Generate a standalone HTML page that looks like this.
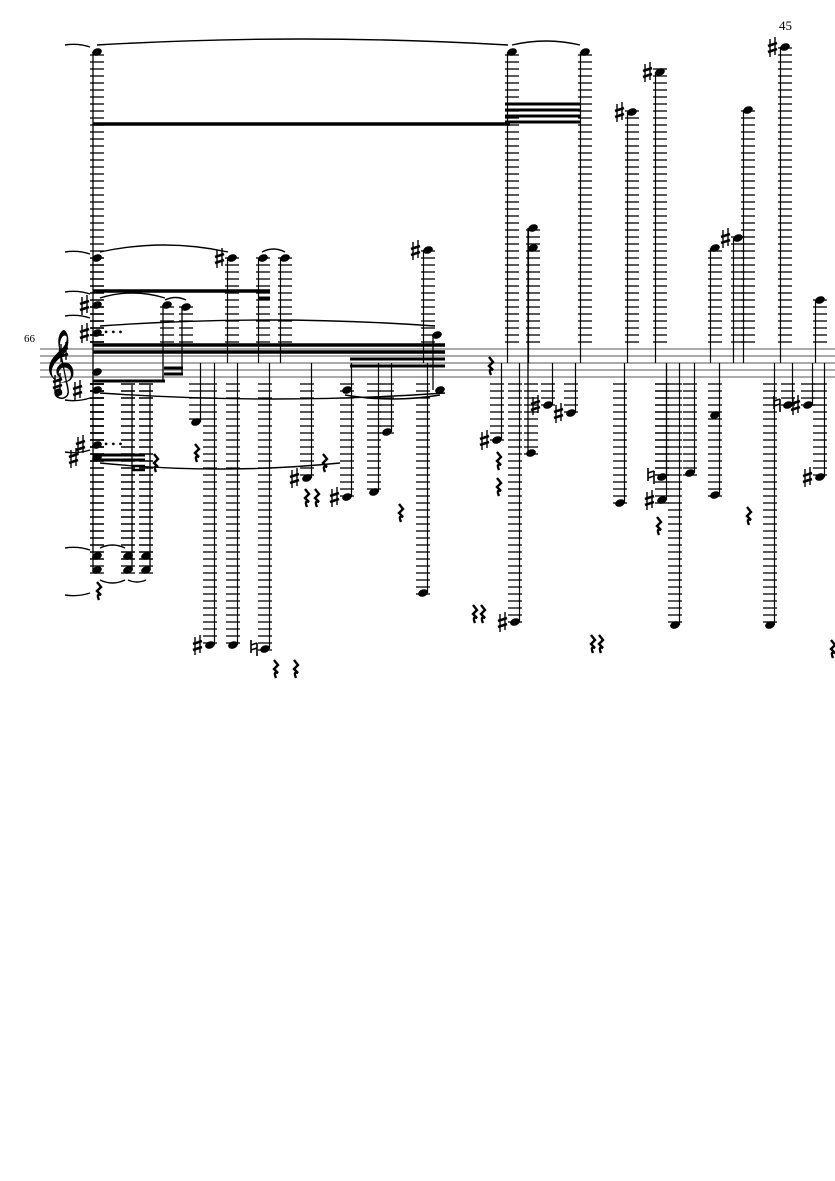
<!DOCTYPE html>
<html><head><meta charset="utf-8"><style>
html,body{margin:0;padding:0;background:#fff;width:835px;height:1181px;overflow:hidden}
svg{display:block}
</style></head><body>
<svg id="s" width="835" height="1181" xmlns="http://www.w3.org/2000/svg" font-family="Liberation Serif, serif">
<text x="779" y="30" font-size="13">45</text>
<text x="24" y="342" font-size="11">66</text>
<g stroke="#777" stroke-width="1.2">
<line x1="40" y1="349" x2="835" y2="349"/><line x1="40" y1="356" x2="835" y2="356"/><line x1="40" y1="363" x2="835" y2="363"/><line x1="40" y1="370" x2="835" y2="370"/><line x1="40" y1="377" x2="835" y2="377"/>
</g>
<text x="42" y="382" font-size="58" font-family="DejaVu Sans, sans-serif">𝄞</text>
<g id="g" fill="#000" stroke="#000"></g>
</svg>
<script>
var g=document.getElementById('g'),h='';
function L(x1,y1,x2,y2,w){h+='<line x1="'+x1+'" y1="'+y1+'" x2="'+x2+'" y2="'+y2+'" stroke-width="'+(w||1.3)+'"/>';}
function head(x,y){h+='<ellipse cx="'+x+'" cy="'+y+'" rx="5" ry="3.6" transform="rotate(-20 '+x+' '+y+')" stroke="none"/>';}
function acc(x,y,c){
 if(c==='♮'){h+='<g stroke-width="1.6" fill="none"><path d="M'+(x-14)+' '+(y-9)+' v13 M'+(x-14)+' '+(y+1)+' l6 -2 M'+(x-14)+' '+(y-4)+' l6 -2 M'+(x-8)+' '+(y-6)+' v13"/></g>';return;}
 var a=x-17;
 h+='<g stroke-width="1.4"><line x1="'+(a+2)+'" y1="'+(y-8)+'" x2="'+(a+2)+'" y2="'+(y+10)+'"/><line x1="'+(a+7)+'" y1="'+(y-10)+'" x2="'+(a+7)+'" y2="'+(y+8)+'"/></g><g stroke-width="2.6"><line x1="'+a+'" y1="'+(y-1)+'" x2="'+(a+9)+'" y2="'+(y-4)+'"/><line x1="'+a+'" y1="'+(y+5)+'" x2="'+(a+9)+'" y2="'+(y+2)+'"/></g>';}
function led(x,y){ if(y<349){for(var k=342;k>=y-3;k-=7)L(x-7,k,x+7,k);} else if(y>377){for(var k=384;k<=y+3;k+=7)L(x-7,k,x+7,k);} }
function up(x,y,a){led(x,y);head(x,y);L(x-4.5,y,x-4.5,Math.max(y,363),1.2);if(a)acc(x,y,a);}
function dn(x,y,a){led(x,y);head(x,y);L(x+4.5,y,x+4.5,Math.min(y,363),1.2);if(a)acc(x,y,a);}
function rest(x,y){h+='<path d="M'+(x-1)+' '+(y-8)+' l4 5 l-4 4 l4 4 q-5 -2 -2 5" fill="none" stroke-width="2.4"/>';}
acc(76,352);acc(70,383);
[52,258,305,333].forEach(function(y){led(97,y);head(97,y);});
[390,445,458,556,570].forEach(function(y){led(97,y);head(97,y);});
head(97,372);L(93,52,93,570,1.3);
acc(97,305);acc(97,333);acc(93,445);acc(86,458);acc(90,390);
h+='<text x="104" y="336" font-size="12" stroke="none">• • •</text><text x="104" y="448" font-size="12" stroke="none">• • •</text>';
L(93,124,510,124,3.5);L(93,291,270,291,3.5);
L(93,345,445,345,3.5);L(93,352,445,352,3.5);L(350,359,445,359,3);L(350,366,445,366,3);
L(505,104,581,104,3);L(505,110,581,110,3);L(505,116,581,116,3);L(505,122,581,122,3);
L(93,381,165,381,3);L(164,374,183,374,3);L(164,368,183,368,3);
L(93,455,145,455,3);L(93,460,145,460,3);L(132,466,145,466,2.5);L(132,470,145,470,2.5);
L(258,292,270,292,3);L(258,298,270,298,3);
[556,570].forEach(function(y){up(128,y);up(146,y);});
L(150,385,150,570);L(132,385,132,570);
dn(167,305);dn(186,307);L(163,305,163,381);L(182,307,182,374);
dn(196,422);
dn(210,645,'♯');dn(233,645);dn(265,649,'♮');
up(232,258,'♯');up(263,258);up(285,258);
dn(307,478,'♯');dn(347,497,'♯');head(347,390);dn(374,492);dn(387,432);
up(428,250,'♯');dn(423,593);head(440,390);head(437,335);L(433,335,433,390);
dn(497,440,'♯');up(512,52);dn(515,622,'♯');
up(533,228);head(533,248);L(528,228,528,453);head(531,453);led(531,453);
dn(548,405,'♯');dn(571,413,'♯');up(585,52);
dn(620,503);up(632,112,'♯');up(660,72,'♯');
dn(662,477,'♮');dn(662,500,'♯');dn(675,625);dn(690,473);
up(715,248);dn(715,495);head(715,415);up(738,238,'♯');up(748,110);
dn(770,625);up(785,47,'♯');dn(788,405,'♮');dn(808,405,'♯');up(820,300);dn(820,477,'♯');
function arc(x1,y1,x2,y2,c){h+='<path d="M'+x1+' '+y1+' Q'+((x1+x2)/2)+' '+(y1+c)+' '+x2+' '+y2+'" fill="none" stroke-width="1.4"/>';}
arc(97,45,508,45,-12);arc(512,45,580,45,-8);arc(100,252,228,252,-14);arc(262,252,285,252,-6);
arc(100,298,165,298,-10);arc(165,300,186,300,-5);arc(100,326,435,326,-12);
arc(100,393,445,393,12);arc(100,463,340,463,12);arc(100,548,125,548,-6);arc(100,580,125,580,6);
arc(128,580,146,580,4);arc(345,395,440,395,8);
arc(65,45,90,47,-2);arc(65,252,90,254,-2);arc(65,292,90,294,-2);arc(65,316,90,318,-2);
arc(65,400,90,398,2);arc(65,452,90,450,2);arc(65,548,90,550,-2);arc(65,595,90,593,2);
[[155,462],[196,452],[98,590],[324,462],[306,497],[316,497],[400,512],[474,613],[482,613],[498,486],[490,365],[592,643],[600,643],[658,525],[748,515],[275,668],[295,668],[832,648],[498,460]].forEach(function(p){rest(p[0],p[1]);});
g.innerHTML=h;
</script>
</body></html>
